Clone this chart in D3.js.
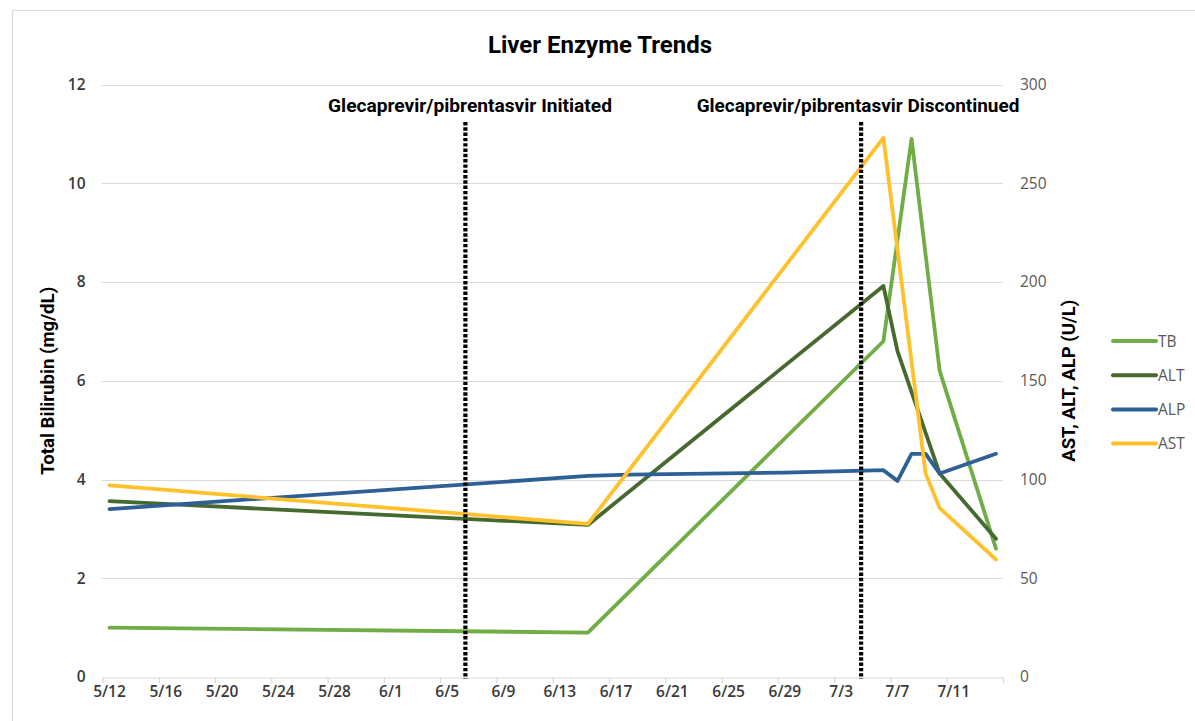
<!DOCTYPE html>
<html>
<head>
<meta charset="utf-8">
<script src="https://cdn.jsdelivr.net/npm/d3@7"></script>
<style>
  html, body { margin: 0; padding: 0; background: #fff; }
  svg { display: block; }
</style>
</head>
<body>
<svg id="chart" width="1195" height="721"></svg>
<script>
// ---------------- DATA ----------------
const year = 2019;
const axisStart = "5/12";
const axisEnd = "7/15";
const tickLabels = ["5/12","5/16","5/20","5/24","5/28","6/1","6/5","6/9","6/13","6/17","6/21","6/25","6/29","7/3","7/7","7/11"];

const tbDates   = ["5/12","6/15","7/6","7/8","7/10","7/14"];
const tbValues  = [1.0, 0.9, 6.8, 10.9, 6.2, 2.6];

const altDates  = ["5/12","6/15","7/6","7/7","7/10","7/14"];
const altValues = [89, 77, 198, 165, 103, 70];

const alpDates  = ["5/12","6/15","6/18","6/29","7/6","7/7","7/8","7/9","7/10","7/14"];
const alpValues = [85, 101.8, 102.5, 103.5, 104.7, 99.3, 113, 113, 103, 113];

const astDates  = ["5/12","6/15","7/6","7/9","7/10","7/14"];
const astValues = [97, 77.5, 273, 103, 85.5, 59.5];

const leftTicks  = [0, 2, 4, 6, 8, 10, 12];
const rightTicks = [0, 50, 100, 150, 200, 250, 300];

const seriesNames  = ["TB", "ALT", "ALP", "AST"];
const seriesColors = ["#70AD47", "#46692F", "#2E5F96", "#FFC12B"];

const eventDates  = ["6/6 19:00", "7/4 22:00"];
const eventLabels = ["Glecaprevir/pibrentasvir Initiated", "Glecaprevir/pibrentasvir Discontinued"];

const chartTitle = "Liver Enzyme Trends";
const leftTitle = "Total Bilirubin (mg/dL)";
const rightTitle = "AST, ALT, ALP (U/L)";

// ---------------- HELPERS ----------------
function parseMD(s) {
  const [md, hm] = s.split(" ");
  const [m, d] = md.split("/").map(Number);
  let h = 0, mi = 0;
  if (hm) { [h, mi] = hm.split(":").map(Number); }
  return new Date(Date.UTC(year, m - 1, d, h, mi));
}
const noon = s => d3.utcHour.offset(parseMD(s), 12);

const svg = d3.select("#chart");
const plot = { left: 102.5, right: 1003, top: 84.5, bottom: 677 };

const x = d3.scaleUtc().domain([parseMD(axisStart), parseMD(axisEnd)]).range([plot.left, plot.right]);
const yL = d3.scaleLinear().domain([0, 12]).range([plot.bottom, plot.top]);
const yR = d3.scaleLinear().domain([0, 300]).range([plot.bottom, plot.top]);

function fitText(sel, target) {
  const node = sel.node();
  const fs = parseFloat(sel.attr("font-size"));
  const w = node.getComputedTextLength();
  if (w > 0) sel.attr("font-size", (fs * target / w).toFixed(2));
  return sel;
}

const narrow = "'Liberation Sans Narrow', 'Arial Narrow', 'Roboto', sans-serif";
const regular = "'Open Sans', 'Noto Sans', sans-serif";

// chart border (top & left visible)
svg.append("line").attr("x1", 12).attr("x2", 1195).attr("y1", 10.5).attr("y2", 10.5).attr("stroke", "#d9d9d9").attr("stroke-width", 1.2);
svg.append("line").attr("x1", 12.5).attr("x2", 12.5).attr("y1", 10).attr("y2", 721).attr("stroke", "#d9d9d9").attr("stroke-width", 1.2);

// gridlines
svg.append("g")
  .selectAll("line").data(leftTicks.filter(d => d > 0)).join("line")
  .attr("x1", plot.left - 1).attr("x2", plot.right)
  .attr("y1", d => Math.round(yL(d)) + 0.5).attr("y2", d => Math.round(yL(d)) + 0.5)
  .attr("stroke", "#d9d9d9").attr("stroke-width", 1);

// x axis (ticks at day boundaries every 4 days)
const tickDates = d3.range(0, 17).map(i => d3.utcDay.offset(parseMD(axisStart), i * 4));
const xAxis = d3.axisBottom(x).tickValues(tickDates).tickFormat("").tickSize(6).tickSizeOuter(0);
const gx = svg.append("g").attr("transform", `translate(0,${Math.round(plot.bottom) + 0.5})`).call(xAxis);
gx.select(".domain").attr("stroke", "#d9d9d9").attr("stroke-width", 1.2);
gx.selectAll(".tick line").attr("stroke", "#d9d9d9").attr("stroke-width", 1.2);

// x labels at day centres
svg.append("g").selectAll("text").data(tickLabels).join("text")
  .attr("x", d => x(noon(d)))
  .attr("y", 697)
  .attr("text-anchor", "middle")
  .attr("font-family", regular).attr("font-size", 15.5).attr("font-weight", 600).attr("fill", "#3a3a3a")
  .text(d => d);

// left y axis labels
const gl = svg.append("g").attr("transform", `translate(${plot.left - 1},0)`)
  .call(d3.axisLeft(yL).tickValues(leftTicks).tickSize(0).tickPadding(16));
gl.select(".domain").remove();
gl.selectAll("text").attr("font-family", regular).attr("font-size", 15.5).attr("font-weight", 600).attr("fill", "#3a3a3a");

// right y axis labels
const gr = svg.append("g").attr("transform", `translate(${plot.right},0)`)
  .call(d3.axisRight(yR).tickValues(rightTicks).tickSize(0).tickPadding(17));
gr.select(".domain").remove();
gr.selectAll("text").attr("font-family", regular).attr("font-size", 15.5).attr("fill", "#595959");

// series
const seriesData = [
  { name: seriesNames[0], color: seriesColors[0], scale: yL, pts: tbDates.map((d, i) => [noon(d), tbValues[i]]) },
  { name: seriesNames[1], color: seriesColors[1], scale: yR, pts: altDates.map((d, i) => [noon(d), altValues[i]]) },
  { name: seriesNames[2], color: seriesColors[2], scale: yR, pts: alpDates.map((d, i) => [noon(d), alpValues[i]]) },
  { name: seriesNames[3], color: seriesColors[3], scale: yR, pts: astDates.map((d, i) => [noon(d), astValues[i]]) }
];

seriesData.forEach(s => {
  const line = d3.line().x(p => x(p[0])).y(p => s.scale(p[1]));
  svg.append("path").datum(s.pts)
    .attr("d", line)
    .attr("fill", "none")
    .attr("stroke", s.color)
    .attr("stroke-width", 3.8)
    .attr("stroke-linejoin", "round")
    .attr("stroke-linecap", "round");
});

// event lines
eventDates.forEach((d, i) => {
  const xe = x(parseMD(d));
  svg.append("line")
    .attr("x1", xe).attr("x2", xe)
    .attr("y1", 122).attr("y2", 679)
    .attr("stroke", "#000").attr("stroke-width", 4.2)
    .attr("stroke-dasharray", "3.4 1.9");
});

// event labels
const evTargets = [284, 323];
const evCenters = [470, 858];
eventLabels.forEach((t, i) => {
  const tx = svg.append("text")
    .attr("x", evCenters[i]).attr("y", 112)
    .attr("text-anchor", "middle")
    .attr("font-family", narrow).attr("font-weight", "bold")
    .attr("font-size", 17).attr("fill", "#000")
    .text(t);
  fitText(tx, evTargets[i]);
});

// title
fitText(svg.append("text")
  .attr("x", 600).attr("y", 53)
  .attr("text-anchor", "middle")
  .attr("font-family", narrow).attr("font-weight", "bold")
  .attr("font-size", 24).attr("fill", "#000")
  .text(chartTitle), 224);

// axis titles
fitText(svg.append("text")
  .attr("transform", `translate(54,${(plot.top + plot.bottom) / 2}) rotate(-90)`)
  .attr("text-anchor", "middle")
  .attr("font-family", narrow).attr("font-weight", "bold")
  .attr("font-size", 17).attr("fill", "#000")
  .text(leftTitle), 188);

fitText(svg.append("text")
  .attr("transform", `translate(1075,${(plot.top + plot.bottom) / 2}) rotate(-90)`)
  .attr("text-anchor", "middle")
  .attr("font-family", narrow).attr("font-weight", "bold")
  .attr("font-size", 17).attr("fill", "#000")
  .text(rightTitle), 162);

// legend
const legend = svg.append("g");
seriesNames.forEach((n, i) => {
  const yy = 341 + i * 34.2;
  legend.append("line")
    .attr("x1", 1113).attr("x2", 1156).attr("y1", yy).attr("y2", yy)
    .attr("stroke", seriesColors[i]).attr("stroke-width", 4).attr("stroke-linecap", "round");
  legend.append("text")
    .attr("x", 1158).attr("y", yy + 5.5)
    .attr("font-family", regular).attr("font-size", 15.5).attr("fill", "#595959")
    .text(n);
});
</script>
</body>
</html>
